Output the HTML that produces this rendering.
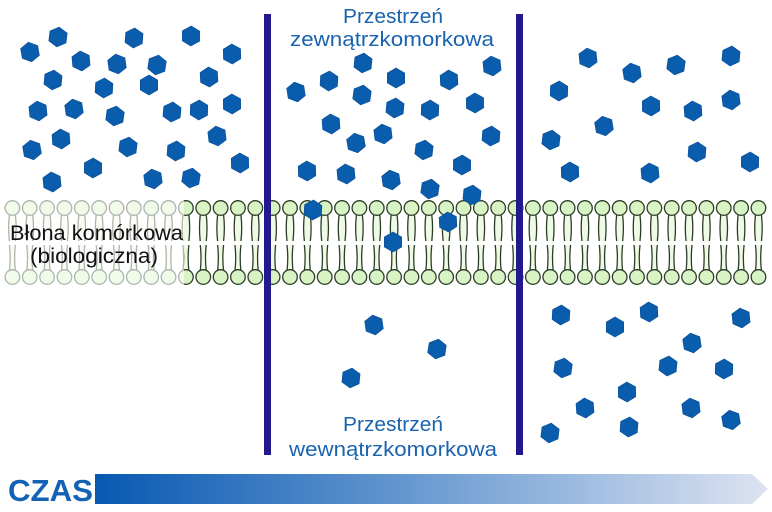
<!DOCTYPE html>
<html><head><meta charset="utf-8"><style>
html,body{margin:0;padding:0;background:#fff;width:772px;height:512px;overflow:hidden}
svg{display:block}
</style></head><body>
<svg id="s" width="772" height="512" viewBox="0 0 772 512" xmlns="http://www.w3.org/2000/svg">
<defs>
<linearGradient id="g" x1="0" x2="1" y1="0" y2="0">
<stop offset="0" stop-color="#0758b2"/><stop offset="0.5" stop-color="#6d9dd2"/><stop offset="1" stop-color="#dde3f1"/>
</linearGradient>
</defs>
<g id="mem"></g>
<rect x="0" y="196" width="184" height="92" fill="#fff" opacity="0.62"/>
<g id="hex"></g>
<rect x="264" y="14" width="7" height="441" fill="#221a8c"/>
<rect x="516" y="14" width="7" height="441" fill="#221a8c"/>
<g font-family="Liberation Sans, DejaVu Sans, sans-serif" font-size="20" fill="#1a63b0" lengthAdjust="spacingAndGlyphs">
<text x="343" y="23" textLength="100" lengthAdjust="spacingAndGlyphs">Przestrzeń</text>
<text x="290" y="46" textLength="204" lengthAdjust="spacingAndGlyphs">zewnątrzkomorkowa</text>
<text x="343" y="431" textLength="100" lengthAdjust="spacingAndGlyphs">Przestrzeń</text>
<text x="289" y="456" textLength="208" lengthAdjust="spacingAndGlyphs">wewnątrzkomorkowa</text>
</g>
<g font-family="Liberation Sans, DejaVu Sans, sans-serif" font-size="21" fill="#111">
<text x="10" y="240" textLength="173" lengthAdjust="spacingAndGlyphs">Błona komórkowa</text>
<text x="30" y="263" textLength="128" lengthAdjust="spacingAndGlyphs">(biologiczna)</text>
</g>
<polygon points="95,474 752,474 768,489 752,504 95,504" fill="url(#g)"/>
<text x="8" y="501" font-family="Liberation Sans, sans-serif" font-weight="bold" font-size="31" fill="#1462b4" textLength="85" lengthAdjust="spacingAndGlyphs">CZAS</text>
</svg>
<script>
var NS="http://www.w3.org/2000/svg";
var mem=document.getElementById("mem"),hx=document.getElementById("hex");
function el(t,a,p){var e=document.createElementNS(NS,t);for(var k in a)e.setAttribute(k,a[k]);p.appendChild(e);return e;}
for(var i=0;i<45;i++){var x=12.4+17.35*i;if(x>775)break;
 el("path",{d:"M"+(x-3)+",215 q-1.5,13 0,26 L"+(x+3)+",241 q1.5,-13 0,-26z M"+(x-3)+",245 q1.5,13 0,26 L"+(x+3)+",271 q-1.5,-13 0,-26z",fill:"#eefae4",stroke:"none"},mem);
 var d="M"+(x-3)+",215 q-1.5,13 0,26 M"+(x+3)+",215 q1.5,13 0,26 M"+(x-3)+",245 q1.5,13 0,26 M"+(x+3)+",245 q-1.5,13 0,26";
 el("path",{d:d,fill:"none",stroke:"#2c3d2a","stroke-width":"1.3"},mem);
 el("circle",{cx:x,cy:208,r:7.3,fill:"#d9f4c4",stroke:"#2c3d2a","stroke-width":"1.3"},mem);
 el("circle",{cx:x,cy:277,r:7.3,fill:"#d9f4c4",stroke:"#2c3d2a","stroke-width":"1.3"},mem);
}
var P=[[30,52],[58,37],[134,38],[191,36],[232,54],[81,61],[117,64],[157,65],[53,80],[104,88],[149,85],[209,77],[38,111],[74,109],[115,116],[172,112],[199,110],[232,104],[61,139],[217,136],[32,150],[128,147],[176,151],[93,168],[240,163],[52,182],[153,179],[191,178],
[363,63],[329,81],[396,78],[449,80],[492,66],[296,92],[362,95],[395,108],[430,110],[475,103],[331,124],[383,134],[356,143],[424,150],[491,136],[462,165],[307,171],[346,174],[391,180],[430,189],[472,195],[313,210],[393,242],[448,222],
[588,58],[632,73],[676,65],[731,56],[559,91],[651,106],[693,111],[731,100],[604,126],[551,140],[697,152],[750,162],[570,172],[650,173],
[374,325],[437,349],[351,378],
[561,315],[615,327],[649,312],[741,318],[692,343],[563,368],[668,366],[724,369],[627,392],[585,408],[691,408],[731,420],[550,433],[629,427]];
P.forEach(function(p,j){var r=10,a0=(j*17%20-10)*Math.PI/180,pts=[];
 for(var k=0;k<6;k++){var a=a0+Math.PI/6+k*Math.PI/3;pts.push((p[0]+r*Math.cos(a)).toFixed(1)+","+(p[1]+r*Math.sin(a)).toFixed(1));}
 el("polygon",{points:pts.join(" "),fill:"#0a5cad",stroke:"#0a4f96","stroke-width":"0.6"},hx);});
</script>
</body></html>
